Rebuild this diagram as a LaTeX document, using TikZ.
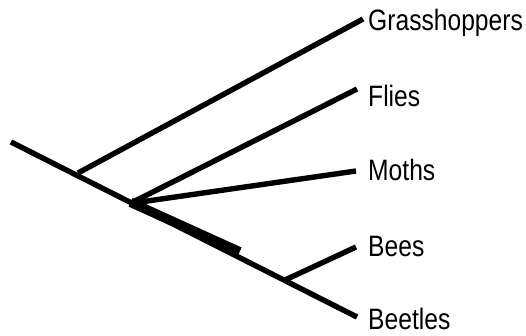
\documentclass[tikz,border=0pt]{standalone}
\usepackage{fontspec}
\newfontfamily\taxonfont{Liberation Sans}[FakeStretch=0.835]
\tikzset{
  branch/.style={line width=5.4pt, line cap=butt, black},
  stem/.style={line width=9.5pt, line cap=butt, black},
  taxon/.style={anchor=base west, inner sep=0pt, font=\taxonfont\fontsize{29.5}{32}\selectfont}
}
\begin{document}
\begin{tikzpicture}[x=1pt, y=-1pt]
  \useasboundingbox (0,0) rectangle (526,335);

  % branching points along the main axis
  \coordinate (root) at (11,142);
  \coordinate (gnode) at (78,173);
  \coordinate (fnode) at (130,203.5);
  \coordinate (thickend) at (239,253);
  \coordinate (bnode) at (285,280);

  % tips
  \coordinate (tG) at (363,19);
  \coordinate (tF) at (357,89);
  \coordinate (tM) at (356,171);
  \coordinate (tB) at (356,247);
  \coordinate (tE) at (357,317);

  % main axis and the emphasised section
  \draw[branch] (root) -- (tE);
  \draw[stem] ([shift={(0.6,-1.2)}]fnode) -- ([shift={(0.6,-1.2)}]thickend);

  % side branches
  \draw[branch] (gnode) -- (tG);
  \draw[branch] (fnode) -- (tF);
  \draw[branch] (fnode) -- (tM);
  \draw[branch] (bnode) -- (tB);

  % taxon labels
  \node[taxon] (lG) at (368,30.5) {Grasshoppers};
  \node[taxon] (lF) at (368,106) {Flies};
  \node[taxon] (lM) at (368,180) {Moths};
  \node[taxon] (lB) at (368,256) {Bees};
  \node[taxon] (lE) at (368,329.5) {Beetles};
\end{tikzpicture}
\end{document}
